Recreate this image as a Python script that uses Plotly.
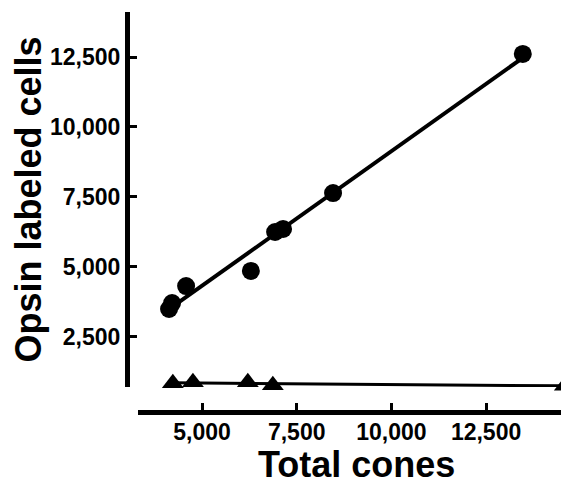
import numpy as np
import plotly.graph_objects as go

# Data
circle_x = [4130, 4210, 4580, 6290, 6930, 7140, 8460, 13470]
circle_y = [3500, 3710, 4320, 4860, 6250, 6360, 7640, 12610]
tri_x = [4230, 4760, 6210, 6870, 14580]
tri_y = [850, 880, 880, 780, 760]
x_ticks = [5000, 7500, 10000, 12500]
y_ticks = [2500, 5000, 7500, 10000, 12500]
x_title = "Total cones"
y_title = "Opsin labeled cells"


def fit_line(xs, ys):
    m, b = np.polyfit(xs, ys, 1)
    lx = [min(xs), max(xs)]
    return lx, [m * v + b for v in lx]


cfx, cfy = fit_line(circle_x, circle_y)
tfx, tfy = fit_line(tri_x, tri_y)

FONT = "Liberation Sans, Arial, sans-serif"

fig = go.Figure()
fig.add_trace(go.Scatter(x=cfx, y=cfy, mode="lines",
                         line=dict(color="black", width=4), hoverinfo="skip"))
fig.add_trace(go.Scatter(x=tfx, y=tfy, mode="lines",
                         line=dict(color="black", width=3), hoverinfo="skip"))
fig.add_trace(go.Scatter(x=circle_x, y=circle_y, mode="markers",
                         marker=dict(symbol="circle", size=18, color="black"),
                         cliponaxis=False))
fig.add_trace(go.Scatter(x=tri_x, y=tri_y, mode="markers",
                         marker=dict(symbol="triangle-up", size=19, color="black"),
                         cliponaxis=False))

# the page body keeps its default 8px margin, so the figure is 8px smaller
W, H = 561, 470
L, R, T, B = 119, 0, 4, 66
pw, ph = W - L - R, H - T - B

fig.update_layout(
    width=W, height=H,
    margin=dict(l=L, r=R, t=T, b=B),
    paper_bgcolor="white", plot_bgcolor="white",
    showlegend=False,
    font=dict(family=FONT, color="black"),
    xaxis=dict(
        range=[3310, 14690], domain=[11 / pw, 1], anchor="free", position=0,
        automargin=False,
        showline=True, linewidth=5, linecolor="black",
        ticks="inside", ticklen=7, tickwidth=3, tickcolor="black",
        tickvals=x_ticks, tickformat=",d", ticklabelstandoff=-3,
        tickfont=dict(family=FONT, size=23, color="black", weight="bold"),
        showgrid=False, zeroline=False,
    ),
    yaxis=dict(
        range=[714, 14107], domain=[25 / ph, 1], anchor="free", position=0,
        automargin=False,
        showline=True, linewidth=5, linecolor="black",
        ticks="inside", ticklen=7, tickwidth=3, tickcolor="black",
        tickvals=y_ticks, tickformat=",d",
        tickfont=dict(family=FONT, size=23, color="black", weight="bold"),
        showgrid=False, zeroline=False,
        title=dict(text=y_title, standoff=7,
                   font=dict(family=FONT, size=36, color="black", weight="bold")),
    ),
    annotations=[dict(
        text=x_title, xref="x domain", yref="paper", x=0.5, y=0,
        xanchor="center", yanchor="top", xshift=3, yshift=-30,
        showarrow=False,
        font=dict(family=FONT, size=36, color="black", weight="bold"),
    )],
)

fig.write_html("out.html")
